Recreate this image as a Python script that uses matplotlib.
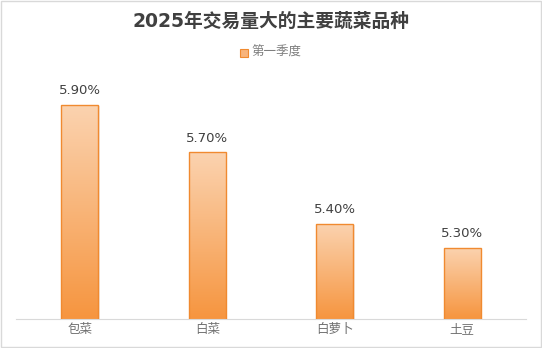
import numpy as np
import matplotlib.pyplot as plt
from matplotlib.colors import LinearSegmentedColormap
from matplotlib.patches import Rectangle

plt.rcParams['font.family'] = ['DejaVu Sans', 'Noto Sans CJK SC']

categories = ["包菜", "白菜", "白萝卜", "土豆"]
values = [5.90, 5.70, 5.40, 5.30]
labels = ["5.90%", "5.70%", "5.40%", "5.30%"]
title = "2025年交易量大的主要蔬菜品种"
series_name = "第一季度"

fig = plt.figure(figsize=(5.42, 3.48), dpi=100)
# light border round the whole chart
fig.patches.append(Rectangle((0.002, 0.003), 0.996, 0.994, transform=fig.transFigure,
                             fill=False, edgecolor="#d9d9d9", linewidth=1))

ax = fig.add_axes([16 / 542, (348 - 319) / 348, 510 / 542, 238 / 348])

cmap = LinearSegmentedColormap.from_list("bar", ["#f6953f", "#fbd3b0"])
grad = np.linspace(0, 1, 256).reshape(-1, 1)
width = 0.29

bars = ax.bar(range(len(categories)), values, width=width, bottom=0,
              color="none", edgecolor="#f08a30", linewidth=1.0, zorder=3)
for b in bars:
    x0, w, h = b.get_x(), b.get_width(), b.get_height()
    # soft shadow on the right
    ax.add_patch(Rectangle((x0 + 0.012, 5.0), w, h - 5.0 - 0.006,
                           facecolor="#e8d5c8", edgecolor="none", alpha=0.5, zorder=1))
    im = ax.imshow(grad, extent=[x0, x0 + w, 5.0, h], origin="lower",
                   cmap=cmap, aspect="auto", zorder=2)
    im.set_clip_path(b)

ax.set_xlim(-0.5, 3.5)
ax.set_ylim(5.0, 6.0)

for i, (v, t) in enumerate(zip(values, labels)):
    ax.annotate(t, (i, v), xytext=(0, 5.5), textcoords="offset points",
                ha="center", va="bottom", fontsize=9.5, color="#404040")

ax.set_xticks(range(len(categories)))
ax.set_xticklabels(categories, fontsize=9, color="#707070",
                   family=['Noto Sans CJK SC', 'DejaVu Sans'])
ax.tick_params(axis="x", length=0, pad=3)
ax.set_yticks([])
for s in ["top", "right", "left"]:
    ax.spines[s].set_visible(False)
ax.spines["bottom"].set_color("#d9d9d9")

fig.text(0.5, 1 - 21 / 348, title, ha="center", va="center", fontsize=13.5,
         fontweight="bold", color="#404040",
         family=['DejaVu Sans', 'Noto Sans CJK SC'])

fig.patches.append(Rectangle((240 / 542, 1 - 57 / 348), 8 / 542, 8 / 348,
                             transform=fig.transFigure, facecolor="#f8b47c",
                             edgecolor="#f08a30", linewidth=0.8))
fig.text(251 / 542, 1 - 52 / 348, series_name, ha="left", va="center",
         fontsize=9, color="#7f7f7f", family=['Noto Sans CJK SC', 'DejaVu Sans'])

fig.savefig("out.png", dpi=100)
